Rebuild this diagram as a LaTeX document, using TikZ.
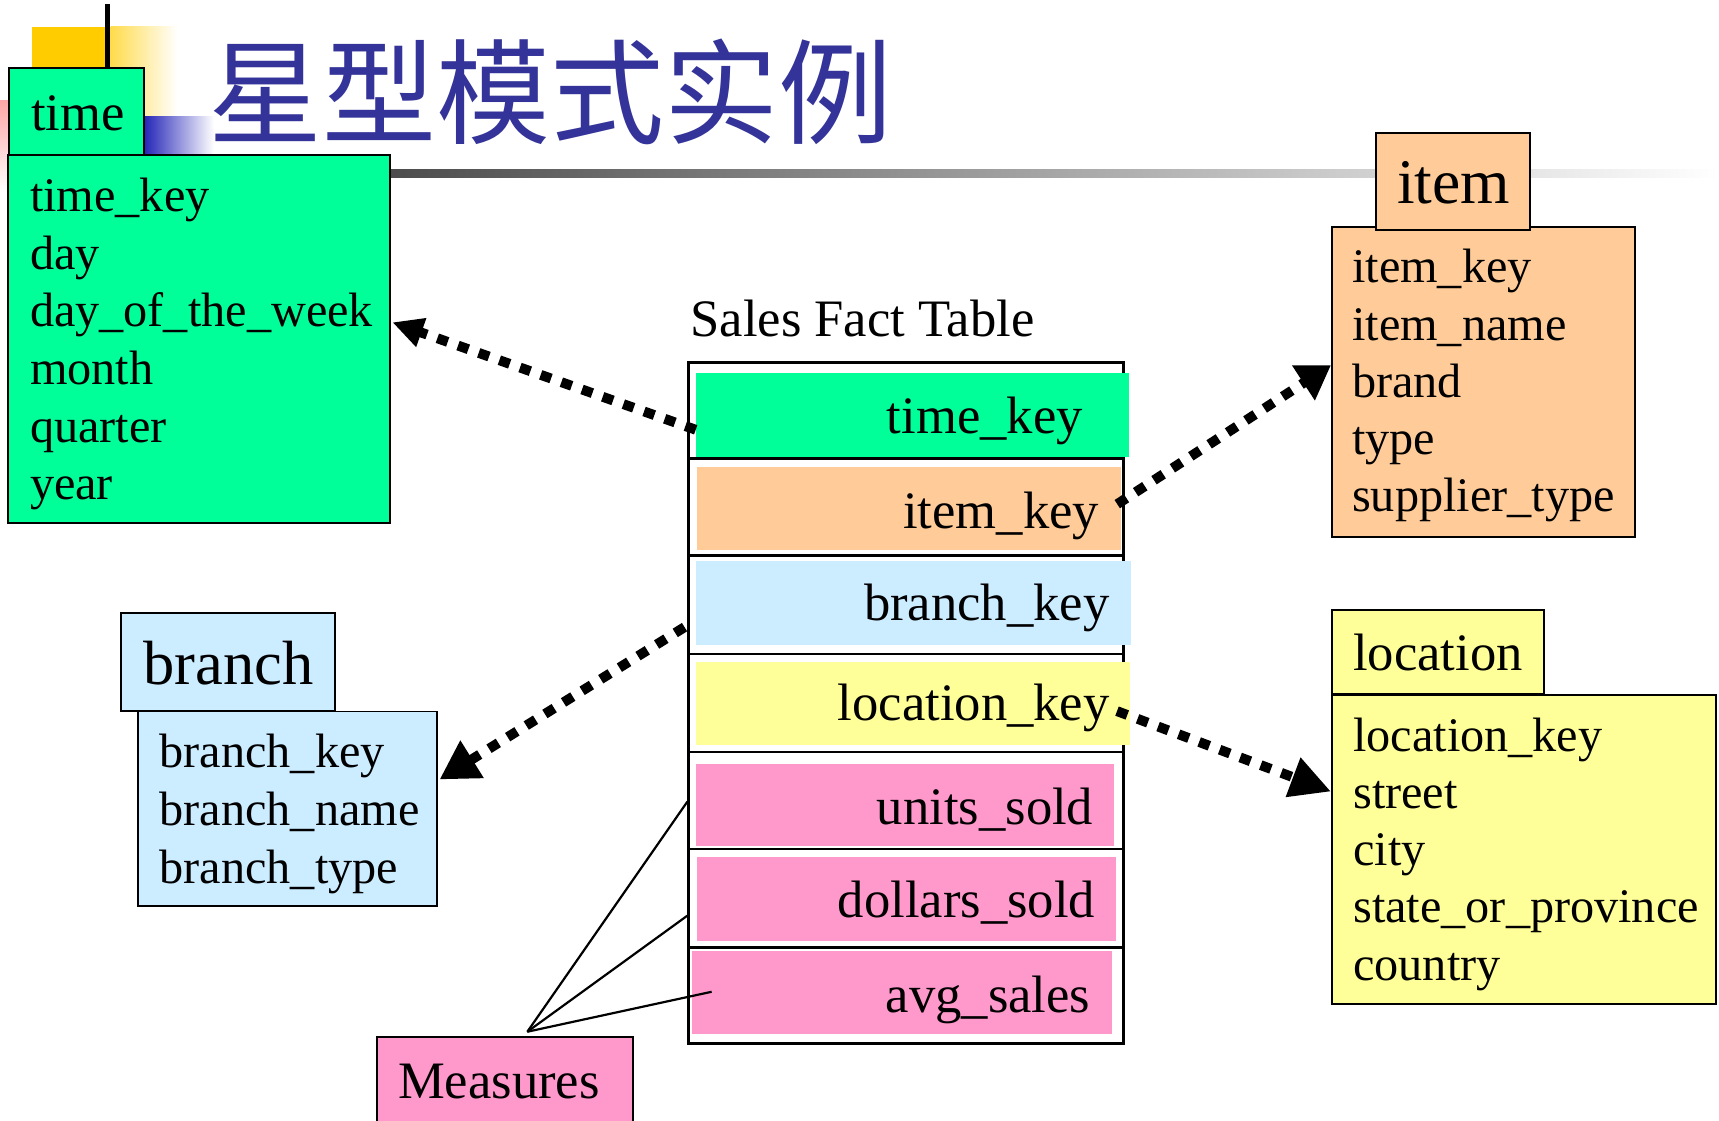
\documentclass[tikz,border=0pt]{standalone}
\usepackage{fontspec}
\setmainfont{Liberation Serif}
\newfontfamily\cjk{Noto Sans CJK SC}
\usetikzlibrary{arrows.meta,fit}
\definecolor{timegreen}{RGB}{0,255,153}
\definecolor{itemorange}{RGB}{255,204,153}
\definecolor{branchblue}{RGB}{204,236,255}
\definecolor{locyellow}{RGB}{255,255,153}
\definecolor{measpink}{RGB}{255,153,204}
\definecolor{titleblue}{RGB}{51,51,153}
\definecolor{decoyellow}{RGB}{255,204,0}
\tikzset{
  dimbox/.style={draw=black,line width=0.9pt,inner sep=0pt},
  rowbox/.style={draw=black,line width=1.3pt,inner sep=0pt},
  keyfill/.style={inner sep=0pt},
  attr/.style={font=\fontsize{22}{26}\selectfont,anchor=base west,inner sep=0pt},
  keytxt/.style={font=\fontsize{24}{28}\selectfont,anchor=base east,inner sep=0pt},
  fkarrow/.style={line width=4.5pt,dash pattern=on 5pt off 5pt}
}
\begin{document}
\begin{tikzpicture}[x=0.5pt,y=-0.5pt]
\useasboundingbox (0,0) rectangle (1568,1022);
% slide decoration
\fill[decoyellow](29,25) rectangle (97,107);
\shade[left color=decoyellow!70,right color=white](101,24) rectangle (162,107);
\shade[top color=red!35,bottom color=white](0,92) rectangle (9,175);
\shade[left color=titleblue!70!blue,right color=white](131,106) rectangle (195,141);
\shade[left color=black!70,right color=white](356,155) rectangle (1568,162);
\draw[line width=2.5pt](98,4)--(98,62);
\node[font=\cjk\fontsize{52}{60}\selectfont,text=titleblue,anchor=base west,inner sep=0pt] (title) at (190,124) {星型模式实例};

% time
\node[dimbox,fill=timegreen,fit={(7,141)(356,477)}] (tlist) {};
\node[dimbox,fill=timegreen,fit={(8,62)(131,141)}] (thead) {};
\node[attr,font=\fontsize{24}{28}\selectfont] (tname) at (28,119) {time};
\foreach \a [count=\i from 0] in {time\_key,day,day\_of\_the\_week,month,quarter,year}
  \node[attr] (t\i) at (27,193+52.6*\i) {\a};

% item
\node[dimbox,fill=itemorange,fit={(1215,207)(1491,490)}] (ilist) {};
\node[dimbox,fill=itemorange,fit={(1255,121)(1396,210)}] (ihead) {};
\node[attr,font=\fontsize{29}{34}\selectfont] (iname) at (1274,186) {item};
\foreach \a [count=\i from 0] in {item\_key,item\_name,brand,type,supplier\_type}
  \node[attr] (i\i) at (1233,258+52.2*\i) {\a};

% branch
\node[dimbox,fill=branchblue,fit={(126,649)(399,826)}] (blist) {};
\node[dimbox,fill=branchblue,fit={(110,559)(306,648.5)}] (bhead) {};
\node[attr,font=\fontsize{28.5}{34}\selectfont] (bname) at (130.4,624.8) {branch};
\foreach \a [count=\i from 0] in {branch\_key,branch\_name,branch\_type}
  \node[attr] (b\i) at (145.3,700.3+52.6*\i) {\a};

% location
\node[dimbox,fill=locyellow,fit={(1215,634)(1565,916)}] (llist) {};
\node[dimbox,fill=locyellow,fit={(1215,556)(1408,633)}] (lhead) {};
\node[attr,font=\fontsize{24}{28}\selectfont] (lname) at (1234,611.8) {location};
\foreach \a [count=\i from 0] in {location\_key,street,city,state\_or\_province,country}
  \node[attr] (l\i) at (1234,685.6+52.1*\i) {\a};

% measures
\node[dimbox,fill=measpink,fit={(344,946)(577,1040)}] (meas) {};
\node[attr,font=\fontsize{24}{28}\selectfont] (mtxt) at (362.8,1001.6) {Measures};

% fact table
\node[attr,font=\fontsize{24}{28}\selectfont] (facttitle) at (629.4,306.5) {Sales Fact Table};
\foreach \t/\b [count=\i] in {331/418.3,418.3/506.7,506.7/596.6,596.6/686,686/774.4,774.4/864,864/952}
  \node[rowbox,fit={(628.3,\t)(1024.8,\b)}] (fr\i) {};
\node[keyfill,fill=timegreen,fit={(634.6,340)(1029.7,417)}] (tkey) {};
\node[keyfill,fill=itemorange,fit={(635.6,426)(1022.7,501.7)}] (ikey) {};
\node[keyfill,fill=branchblue,fit={(634.6,511.7)(1031.8,588.2)}] (bkey) {};
\node[keyfill,fill=locyellow,fit={(634.6,603.5)(1031,679.8)}] (lkey) {};
\node[keyfill,fill=measpink,fit={(634.6,697)(1015.8,771.7)}] (usold) {};
\node[keyfill,fill=measpink,fit={(635.6,781.7)(1017.9,858)}] (dsold) {};
\node[keyfill,fill=measpink,fit={(631,867.5)(1014.3,943)}] (asales) {};
\node[keytxt] (tkeyt) at (988,395) {time\_key};
\node[keytxt] (ikeyt) at (1002.8,482) {item\_key};
\node[keytxt] (bkeyt) at (1012.5,566) {branch\_key};
\node[keytxt] (lkeyt) at (1012.5,657.6) {location\_key};
\node[keytxt] (usoldt) at (997.6,752.4) {units\_sold};
\node[keytxt] (dsoldt) at (999.4,837) {dollars\_sold};
\node[keytxt] (asalest) at (995,924) {avg\_sales};

% foreign keys
\draw[fkarrow,-{Triangle[length=14pt,width=13pt]}]([shift={(0.4,13.5)}]tkey.west)--([shift={(1,-15)}]tlist.east);
\draw[fkarrow,-{Triangle[length=15pt,width=18pt]}]([shift={(-4,-4)}]ikey.east)--([shift={(0,-15.5)}]ilist.west);
\draw[fkarrow,-{Triangle[length=17.5pt,width=19pt]}]([shift={(-2.6,20.4)}]fr3.west)--([shift={(1,-26.5)}]blist.east);
\draw[fkarrow,-{Triangle[length=18.5pt,width=18pt]}]([shift={(-12.5,7)}]lkey.east)--([shift={(0,-53)}]llist.west);

% measures links
\coordinate (mtip) at ([shift={(20.5,-4)}]meas.north);
\draw[line width=1pt](mtip)--([shift={(0,1)}]fr5.west);
\draw[line width=1pt](mtip)--([shift={(0,16)}]fr6.west);
\draw[line width=1pt](mtip)--([shift={(18.5,-0.6)}]asales.west);
\end{tikzpicture}
\end{document}
